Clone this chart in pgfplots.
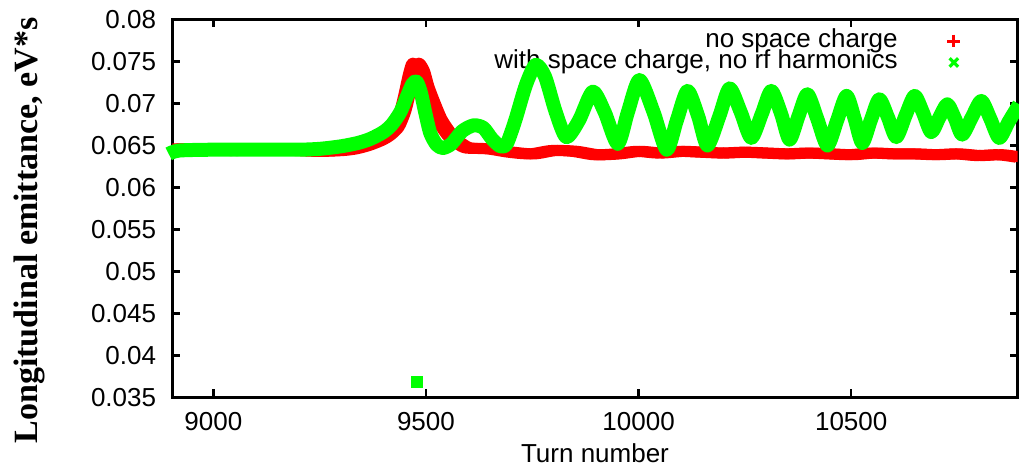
\documentclass[border=0pt]{standalone}
\usepackage{pgfplots}
\pgfplotsset{compat=1.18}
\usepackage{fontspec}
\setmainfont{Liberation Sans}
\newfontfamily\tnr{Liberation Serif}
\definecolor{gpred}{RGB}{255,0,0}
\definecolor{gpgreen}{RGB}{0,255,0}

\pgfplotstableread{
x y
8895 0.0641
8910 0.0646
9000 0.0645
9050 0.0644
9100 0.0646
9150 0.0645
9200 0.0644
9250 0.0643
9300 0.0644
9330 0.0646
9360 0.0650
9390 0.0656
9410 0.0662
9430 0.0672
9445 0.0690
9455 0.0710
9465 0.0733
9473 0.0747
9480 0.0747
9490 0.0738
9500 0.0720
9515 0.0700
9530 0.0682
9545 0.0670
9560 0.0660
9580 0.0652
9600 0.0647
9650 0.0646
9700 0.0642
9750 0.0640
9800 0.0644
9850 0.0643
9900 0.0639
9950 0.0640
10000 0.0643
10050 0.0641
10100 0.0643
10150 0.0642
10200 0.0641
10250 0.0642
10300 0.0641
10350 0.0640
10400 0.0641
10450 0.0640
10500 0.0639
10550 0.0641
10600 0.0640
10650 0.0640
10700 0.0639
10750 0.0640
10800 0.0638
10850 0.0639
10895 0.0636
}\redtab

\pgfplotstableread{
x y
8895 0.0640
8920 0.0644
9000 0.0645
9100 0.0645
9200 0.0645
9250 0.0646
9300 0.0649
9340 0.0653
9370 0.0658
9400 0.0666
9420 0.0675
9440 0.0690
9455 0.0708
9468 0.0723
9478 0.0726
9488 0.0713
9498 0.0690
9510 0.0665
9525 0.0651
9540 0.0647
9560 0.0652
9585 0.0667
9612 0.0674
9635 0.0671
9655 0.0658
9675 0.0649
9690 0.0652
9710 0.0680
9735 0.0722
9758 0.0746
9780 0.0732
9805 0.0690
9830 0.0660
9860 0.0680
9892 0.0714
9920 0.0690
9951 0.0652
9975 0.0690
10002 0.0728
10035 0.0690
10066 0.0645
10090 0.0680
10115 0.0715
10140 0.0685
10162 0.0650
10190 0.0685
10214 0.0718
10240 0.0690
10265 0.0659
10290 0.0688
10312 0.0715
10335 0.0688
10355 0.0657
10376 0.0685
10397 0.0711
10420 0.0682
10444 0.0650
10467 0.0680
10489 0.0709
10508 0.0682
10526 0.0653
10546 0.0680
10566 0.0705
10586 0.0684
10606 0.0660
10628 0.0686
10649 0.0709
10668 0.0690
10688 0.0666
10707 0.0683
10726 0.0699
10744 0.0682
10761 0.0663
10784 0.0684
10806 0.0703
10827 0.0682
10848 0.0659
10870 0.0678
10895 0.0699
}\greentab

\begin{document}
\begin{tikzpicture}
\begin{axis}[
  set layers=standard,
  scale only axis,
  width=422.5pt, height=189pt,
  xmin=8904, xmax=10891,
  ymin=0.035, ymax=0.08,
  xtick={9000,9500,10000,10500},
  ytick={0.035,0.04,0.045,0.05,0.055,0.06,0.065,0.07,0.075,0.08},
  scaled x ticks=false, scaled y ticks=false,
  /pgf/number format/assume math mode=true,
  xticklabel style={/pgf/number format/1000 sep={}, inner sep=0pt, yshift=-7pt},
  yticklabel style={/pgf/number format/fixed, /pgf/number format/precision=3, inner sep=0pt, xshift=-8pt},
  tick label style={font=\fontsize{13}{15}\selectfont, text=black},
  axis line style={line width=1.5pt},
  major tick length=4pt,
  every tick/.style={black, line width=1.2pt},
  xlabel={Turn number},
  ylabel={Longitudinal emittance, eV*s},
  xlabel style={at={([yshift=-28pt]rel axis cs:0.5,0)}, anchor=center, font=\fontsize{13}{15}\selectfont},
  ylabel style={at={([xshift=-71.5pt]rel axis cs:0,0.442)}, anchor=center, font=\tnr\bfseries\fontsize{17}{20}\selectfont},
  legend plot pos=right,
  legend cell align=right,
  legend style={at={(rel axis cs:0.9327,0.9722)}, anchor=north east, draw=none, fill=none, inner sep=0pt,
    font=\fontsize{13}{15}\selectfont,
    nodes={inner sep=0pt, text height=8.5pt, text depth=2.2pt}},
  legend image code/.code={\path (0pt,0pt) (27.3pt,0pt); \draw[#1] plot coordinates {(27.3pt,0pt)};},
  legend entries={{no space charge},{with space charge, no rf harmonics}},
]
\coordinate (sw) at (rel axis cs:0,0);
\coordinate (ne) at (rel axis cs:1,1);
\addlegendimage{only marks, mark=+, color=gpred, mark size=3.2pt, line width=1.5pt}
\addlegendimage{only marks, mark=x, color=gpgreen, mark size=3pt, line width=1.6pt}
\addplot[forget plot, color=gpred, line width=5.5pt, line join=round, smooth, tension=0.45, xshift=-1.5pt] table[x=x,y=y] {\redtab};
\addplot[forget plot, color=gpred, line width=5.5pt, line join=round, smooth, tension=0.45, xshift=1.5pt] table[x=x,y=y] {\redtab};
\addplot[forget plot, only marks, mark=square*, color=gpred, mark size=1pt] coordinates {(9478,0.0372)};
\addplot[forget plot, on layer=axis foreground, color=gpgreen, line width=7pt, line join=round, smooth, tension=0.45] table[x=x,y=y] {\greentab};
\addplot[forget plot, on layer=axis foreground, only marks, mark=square*, color=gpgreen, mark size=2.6pt] coordinates {(9479,0.03685)};
\end{axis}
\pgfresetboundingbox
\useasboundingbox ([shift={(-86.25pt,-35.35pt)}]sw) rectangle ([shift={(0.75pt,9.75pt)}]ne);
\end{tikzpicture}
\end{document}
